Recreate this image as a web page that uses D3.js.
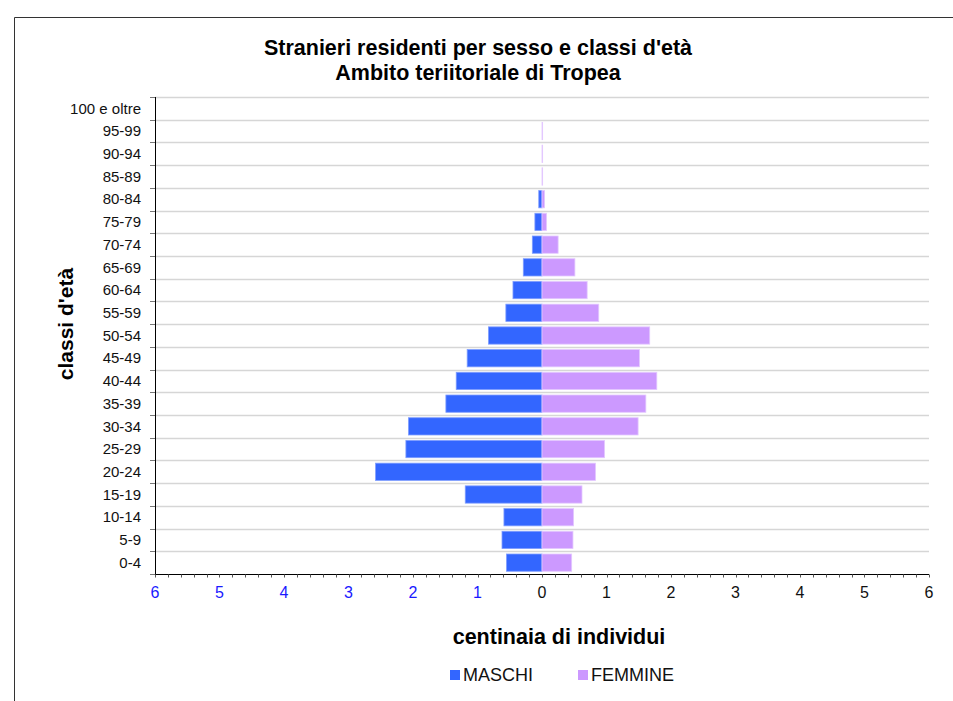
<!DOCTYPE html>
<html>
<head>
<meta charset="utf-8">
<script src="https://cdn.jsdelivr.net/npm/d3@7"></script>
<style>
  body { margin: 0; background: #fff; }
  svg { font-family: "Liberation Sans", Arial, sans-serif; }
</style>
</head>
<body>
<div id="chart"></div>
<script>
// age classes, bottom to top
const ageClasses = ['0-4', '5-9', '10-14', '15-19', '20-24', '25-29', '30-34', '35-39', '40-44', '45-49',
    '50-54', '55-59', '60-64', '65-69', '70-74', '75-79', '80-84', '85-89', '90-94', '95-99', '100 e oltre'];
// hundreds of people
const maschi = [0.55, 0.62, 0.59, 1.19, 2.58, 2.11, 2.07, 1.49, 1.33, 1.16,
    0.83, 0.56, 0.45, 0.29, 0.15, 0.11, 0.05, 0, 0, 0, 0];
const femmine = [0.46, 0.48, 0.49, 0.62, 0.83, 0.97, 1.49, 1.61, 1.78, 1.51,
    1.67, 0.88, 0.70, 0.51, 0.25, 0.07, 0.04, 0.01, 0.01, 0.01, 0];
const xTicks = [-6, -5, -4, -3, -2, -1, 0, 1, 2, 3, 4, 5, 6];

const dim = { width: 953, height: 701, left: 155, right: 929, top: 97, bottom: 574 };

const svg = d3.select('#chart')
    .append('svg')
        .attr('width', dim.width)
        .attr('height', dim.height);

// outer frame of the chart area (cut by the window)
svg.append('path')
    .attr('d', `M14.5,${dim.height} V17.5 H${dim.width}`)
    .attr('fill', 'none')
    .attr('stroke', '#333')
    .attr('stroke-width', 1);

const x = d3.scaleLinear()
    .domain([-6, 6])
    .range([dim.left, dim.right]);

const y = d3.scaleBand()
    .domain(ageClasses)
    .range([dim.bottom, dim.top])
    .paddingInner(0.24)
    .paddingOuter(0.12);

// gridlines at band boundaries
const boundaries = d3.range(ageClasses.length + 1).map(i => dim.bottom - i * (dim.bottom - dim.top) / ageClasses.length);
svg.append('g')
    .selectAll('line')
    .data(boundaries.slice(1))
    .enter()
    .append('line')
        .attr('x1', dim.left)
        .attr('x2', dim.right)
        .attr('y1', d => Math.round(d) + 0.5)
        .attr('y2', d => Math.round(d) + 0.5)
        .attr('stroke', '#d6d6d6')
        .attr('stroke-width', 1.3);

// y ticks pointing left
svg.append('g')
    .selectAll('line')
    .data(boundaries)
    .enter()
    .append('line')
        .attr('x1', dim.left - 5)
        .attr('x2', dim.left)
        .attr('y1', d => Math.round(d) + 0.5)
        .attr('y2', d => Math.round(d) + 0.5)
        .attr('stroke', '#777')
        .attr('stroke-width', 1);

// bars
const rows = ageClasses.map((c, i) => ({ c, m: maschi[i], f: femmine[i] }));

svg.append('g')
    .selectAll('rect')
    .data(rows.filter(d => d.m > 0))
    .enter()
    .append('rect')
        .attr('x', d => x(-d.m))
        .attr('y', d => y(d.c))
        .attr('width', d => x(0) - x(-d.m))
        .attr('height', y.bandwidth())
        .attr('fill', '#3366ff')
        .attr('stroke', '#7f9dff')
        .attr('stroke-width', 0.8);

svg.append('g')
    .selectAll('rect')
    .data(rows.filter(d => d.f > 0))
    .enter()
    .append('rect')
        .attr('x', x(0))
        .attr('y', d => y(d.c))
        .attr('width', d => x(d.f) - x(0))
        .attr('height', y.bandwidth())
        .attr('fill', '#cc99ff')
        .attr('stroke', '#e3c8ff')
        .attr('stroke-width', 0.8);

// y axis line + labels
svg.append('line')
    .attr('x1', dim.left + 0.5)
    .attr('x2', dim.left + 0.5)
    .attr('y1', dim.top)
    .attr('y2', dim.bottom)
    .attr('stroke', '#000');

svg.append('g')
    .selectAll('text')
    .data(ageClasses)
    .enter()
    .append('text')
        .attr('x', 141)
        .attr('y', d => y(d) + y.bandwidth() / 2)
        .attr('dy', '0.35em')
        .attr('text-anchor', 'end')
        .attr('font-size', '15px')
        .attr('fill', '#111')
        .text(d => d);

// x axis with minor ticks every 0.2
const xAxis = svg.append('g')
    .attr('transform', `translate(0, ${dim.bottom + 0.5})`);

xAxis.append('line')
    .attr('x1', dim.left)
    .attr('x2', dim.right)
    .attr('stroke', '#000');

xAxis.selectAll('line.minor')
    .data(d3.range(-30, 31).map(v => v / 5))
    .enter()
    .append('line')
        .attr('class', 'minor')
        .attr('x1', d => Math.round(x(d)) + 0.5)
        .attr('x2', d => Math.round(x(d)) + 0.5)
        .attr('y1', 0)
        .attr('y2', 3)
        .attr('stroke', '#555');

xAxis.selectAll('text')
    .data(xTicks)
    .enter()
    .append('text')
        .attr('x', d => x(d))
        .attr('y', 18)
        .attr('dy', '0.35em')
        .attr('text-anchor', 'middle')
        .attr('font-size', '16px')
        .attr('fill', d => d < 0 ? '#1a1aff' : '#111')
        .text(d => Math.abs(d));

// titles
svg.append('text')
    .attr('x', 478)
    .attr('y', 55)
    .attr('text-anchor', 'middle')
    .attr('font-size', '21.5px')
    .attr('font-weight', 'bold')
    .text("Stranieri residenti per sesso e classi d'età");

svg.append('text')
    .attr('x', 478)
    .attr('y', 80)
    .attr('text-anchor', 'middle')
    .attr('font-size', '21.5px')
    .attr('font-weight', 'bold')
    .text('Ambito teriitoriale di Tropea');

svg.append('text')
    .attr('transform', 'translate(73, 324) rotate(-90)')
    .attr('text-anchor', 'middle')
    .attr('font-size', '21px')
    .attr('font-weight', 'bold')
    .text("classi d'età");

svg.append('text')
    .attr('x', 559)
    .attr('y', 644)
    .attr('text-anchor', 'middle')
    .attr('font-size', '21.5px')
    .attr('font-weight', 'bold')
    .text('centinaia di individui');

// legend
const legend = svg.append('g');
const legendItems = [
    { label: 'MASCHI', color: '#3366ff', x: 450 },
    { label: 'FEMMINE', color: '#cc99ff', x: 578 }
];
legendItems.forEach(it => {
    legend.append('rect')
        .attr('x', it.x)
        .attr('y', 670)
        .attr('width', 10)
        .attr('height', 10)
        .attr('fill', it.color);
    legend.append('text')
        .attr('x', it.x + 13)
        .attr('y', 681)
        .attr('font-size', '18px')
        .attr('fill', '#111')
        .text(it.label);
});
</script>
</body>
</html>
